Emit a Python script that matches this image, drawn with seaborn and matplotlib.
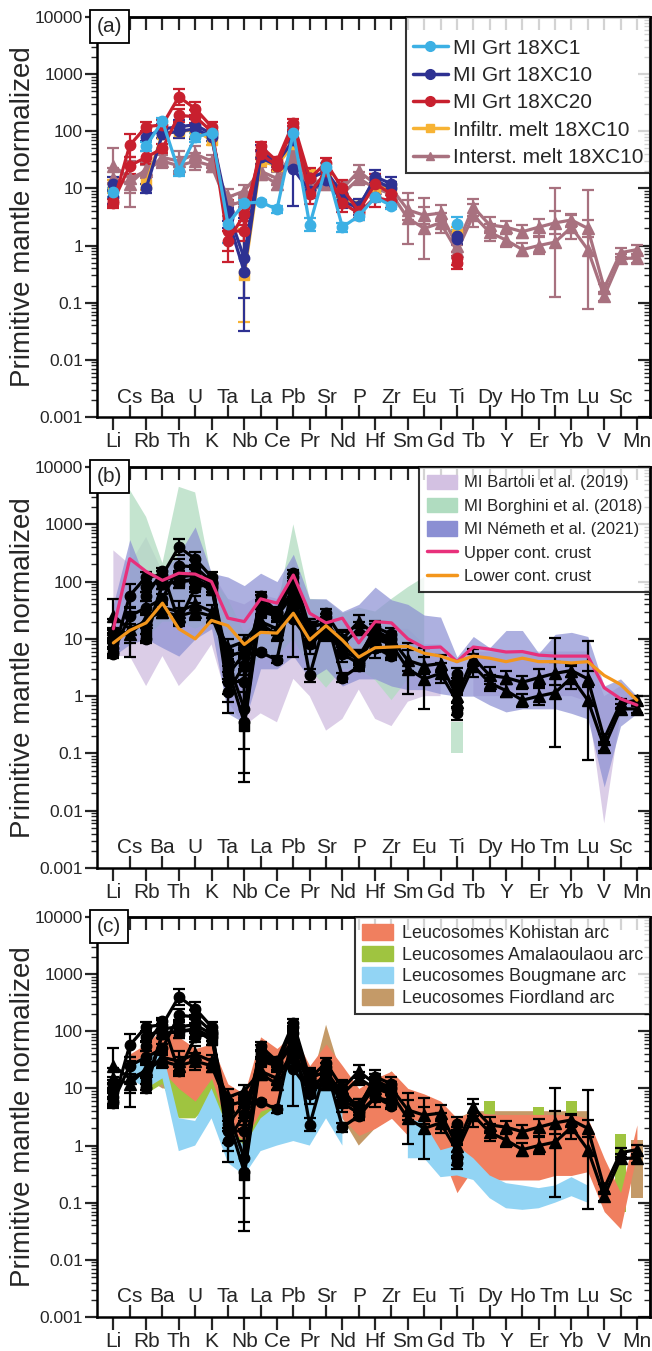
import numpy as np
import matplotlib
matplotlib.use("Agg")
import matplotlib.pyplot as plt
import seaborn as sns
import pandas as pd
from matplotlib.patches import Patch
from matplotlib.lines import Line2D
from matplotlib import ticker
import matplotlib.transforms as mtrans

sns.set_theme(style="ticks")
plt.rcParams['font.family'] = ['Liberation Sans', 'DejaVu Sans']

n = np.nan
elements = ["Li", "Cs", "Rb", "Ba", "Th", "U", "K", "Ta", "Nb", "La", "Ce", "Pb", "Pr", "Sr", "Nd",
            "P", "Hf", "Zr", "Sm", "Eu", "Gd", "Ti", "Tb", "Dy", "Y", "Ho", "Er", "Tm", "Yb", "Lu",
            "V", "Sc", "Mn"]

# ---- melt inclusion / melt data (primitive mantle normalized) ----
#        Li   Cs   Rb   Ba   Th   U    K    Ta   Nb   La   Ce   Pb   Pr   Sr   Nd   P    Hf   Zr   Sm   Eu   Gd   Ti   Tb   Dy   Y    Ho   Er   Tm   Yb   Lu   V    Sc   Mn
xc1 = [8.5, n, 55, 150, 20, 78, 95, 2.4, 5.5, 5.8, 4.3, 95, 2.3, 24, 2.1, 3.3, 7, 5, n, n, n, 2.4, n, n, n, n, n, n, n, n, n, n, n]
xc1_err = [1.2, n, 1.2, 1.15, 1.2, 1.2, 1.15, 2.2, 1.15, 1.1, 1.15, 1.2, 1.3, 1.15, 1.2, 1.2, 1.2, 1.15, n, n, n, 1.3, n, n, n, n, n, n, n, n, n, n, n]
xc10_1 = [7, n, 80, 110, 120, 130, 90, 4, 0.6, 45, 28, 70, 15, 20, 8, 5, 14, 10, n, n, n, 1.3, n, n, n, n, n, n, n, n, n, n, n]
xc10_1_err = [1.3, n, 1.2, 1.2, 1.3, 1.3, 1.2, 1.5, 5.0, 1.3, 1.2, 1.3, 1.3, 1.2, 1.3, 1.3, 1.3, 1.3, n, n, n, 1.2, n, n, n, n, n, n, n, n, n, n, n]
xc10_2 = [12, n, 10, 90, 100, 110, 80, 3, 0.35, 35, 25, 22, 9, 14, 6, 4.5, 16, 12, n, n, n, 1.5, n, n, n, n, n, n, n, n, n, n, n]
xc10_2_err = [1.3, n, 1.2, 1.2, 1.3, 1.5, 1.2, 1.5, 11.0, 1.3, 1.2, 4.5, 1.3, 1.2, 1.3, 1.3, 1.3, 1.3, n, n, n, 1.2, n, n, n, n, n, n, n, n, n, n, n]
xc20_1 = [5.5, 57, 120, 130, 400, 250, 120, 1.8, 1.8, 55, 30, 140, 15, 28, 10, 4, 12, 8, n, n, n, 0.6, n, n, n, n, n, n, n, n, n, n, n]
xc20_1_err = [1.2, 1.6, 1.2, 1.2, 1.4, 1.3, 1.2, 3.5, 1.5, 1.2, 1.2, 1.15, 1.5, 1.2, 1.4, 1.3, 1.5, 1.3, n, n, n, 1.3, n, n, n, n, n, n, n, n, n, n, n]
xc20_2 = [6, 25, 35, 50, 190, 180, 100, 1.2, 3.5, 40, 25, 120, 8, 20, 5.5, 3.7, 7, 6, n, n, n, 0.5, n, n, n, n, n, n, n, n, n, n, n]
xc20_2_err = [1.2, 1.4, 1.3, 1.2, 1.3, 1.3, 1.2, 1.5, 1.5, 1.2, 1.2, 1.15, 1.5, 1.2, 1.4, 1.3, 1.5, 1.3, n, n, n, 1.3, n, n, n, n, n, n, n, n, n, n, n]
infl = [11, n, 12, 90, 100, 105, 70, n, 0.3, 30, 25, 60, 17, 18, 7, 5, 10, 10, n, n, n, 1.6, n, n, n, n, n, n, n, n, n, n, n]
infl_err = [1.3, n, 1.3, 1.2, 1.3, 1.3, 1.2, n, 6.5, 1.2, 1.2, 1.3, 1.3, 1.2, 1.3, 1.3, 1.3, 1.3, n, n, n, 1.3, n, n, n, n, n, n, n, n, n, n, n]
inter_1 = [25, 15, 20, 35, 30, 40, 30, 7, 9, 20, 15, 45, 12, 15, 10, 20, 12, 10, 4.2, 3.4, 3.7, 1.0, 4.7, 2.3, 2.1, 1.75, 2.1, 2.5, 2.8, 2.0, 0.18, 0.75, 0.85]
inter_1_err = [2.0, 1.8, 1.3, 1.3, 1.5, 1.4, 1.3, 1.4, 1.3, 1.3, 1.3, 2.0, 1.3, 1.3, 1.3, 1.3, 1.3, 1.3, 1.5, 1.4, 1.4, 1.3, 1.4, 1.4, 1.3, 1.3, 1.4, 1.6, 1.3, 1.4, 1.2, 1.2, 1.2]
inter_2 = [15, 12, 22, 30, 25, 30, 25, 5, 6, 18, 12, 35, 9, 12, 8, 15, 10, 8, 3.0, 2.0, 2.5, 0.8, 3.4, 1.7, 1.25, 0.85, 1.0, 1.15, 2.1, 0.85, 0.13, 0.6, 0.6]
inter_2_err = [1.5, 2.5, 1.3, 1.3, 1.4, 1.4, 1.3, 1.5, 1.3, 1.3, 1.3, 1.4, 1.3, 1.3, 1.3, 1.3, 1.3, 1.3, 2.8, 3.4, 1.5, 1.3, 1.6, 1.4, 1.3, 1.3, 1.4, 9.0, 1.6, 11.0, 1.2, 1.2, 1.2]

# ---- continental crust ----
ucc = [15, 250, 150, 105, 140, 135, 100, 23, 20, 50, 42, 130, 28, 19, 23, 8.5, 20, 19, 10, 7, 7.2, 4, 7.2, 6.6, 5.9, 6, 5.2, 5, 5, 5, 1.4, 0.9, 0.7]
lcc = [8.5, 14, 19, 42, 15, 10, 21, 17, 8, 13, 12.6, 28, 9.6, 17, 9.5, 4.8, 7, 7.2, 7.4, 5.6, 5, 4, 5, 4.6, 4, 4.6, 4, 4, 3.8, 4, 2.3, 1.6, 0.85]

# ---- literature melt inclusion ranges (lower / upper) ----
bartoli_lo = [5, 5, 1.5, 5, 1.5, 3, 8, 0.8, 0.3, 0.5, 0.35, 2, 1, 0.25, 0.4, 1.3, 0.4, 0.3, 0.8, 1, 1, n, 1, 1, 1, 1, 1, 1, 1, 0.8, 0.006, 0.5, 0.6]
bartoli_hi = [350, 200, 600, 150, 100, 200, 150, 50, 40, 60, 50, 250, 30, 30, 20, 20, 20, 15, 15, 8, 8, n, 6, 6, 6, 6, 6, 6, 6, 6, 1, 1.5, 1]
borghini_lo = [n, 14, 10, 20, 20, 15, 20, 2, 2, 5, 5, 10, 3, 1.4, 3, 3, 1.9, 0.85, 2, 3, n, 0.1, n, n, n, n, n, n, n, n, n, n, n]
borghini_hi = [n, 4000, 1350, 210, 4500, 3600, 120, 50, 13, 22, 32, 1000, 50, 48, 28, 35, 30, 50, 80, 120, n, 0.35, n, n, n, n, n, n, n, n, n, n, n]
nemeth_lo = [5, 8, 10, 7, 5, 10, 15, 0.5, 0.34, 3, 3, 5, 2, 3, 1.5, 2, 2, 1.5, 1.3, 1.3, 1.1, 1, 1, 0.7, 0.53, 0.6, 0.6, 0.6, 0.5, 0.4, 0.026, 0.3, 0.5]
nemeth_hi = [40, 540, 100, 150, 300, 900, 140, 120, 85, 140, 100, 300, 50, 50, 30, 40, 80, 48, 40, 26, 24, 4.8, 11, 7, 14, 14, 5.6, 12, 13, 11, 1.5, 2, 1]

# ---- arc leucosome ranges (lower / upper) ----
kohistan_lo = [n, 15, 20, 20, 10, 6, 15, 2, 1.2, 4, 5, 10, 3, 8, 3, 1.5, 2, 3, 1.5, 1, 0.8, 0.15, 0.4, 0.25, 0.25, 0.25, 0.25, 0.3, 0.3, 0.35, 0.07, 0.035, 0.74]
kohistan_hi = [n, 40, 60, 110, 80, 50, 60, 12, 8, 80, 50, 90, 25, 60, 25, 10, 15, 20, 10, 8, 6, 3, 4, 3.5, 3.5, 3.5, 3.5, 3.5, 3.5, 3, 0.6, 0.15, 2.3]
amala_lo = [n, n, 8, 12, 3, 3, 6, 1.2, 1, 1.5, 2, n, n, n, n, n, n, n, n, 3, 2.5, n, n, 3.5, n, n, 1.7, n, 3.5, n, n, 0.07, n]
amala_hi = [n, n, 20, 35, 12, 10, 20, 4, 4, 10, 10, n, n, n, n, n, n, n, n, 6, 5, n, n, 6, n, n, 4.7, n, 6, n, n, 1.6, n]
boug_lo = [n, 15, 10, 15, 0.8, 1, 3, 0.5, 0.3, 0.8, 1, 1.2, 1, 3, 1, n, n, n, 0.6, 0.6, 0.28, 0.3, 0.25, 0.12, 0.08, 0.075, 0.08, 0.1, 0.13, 0.1, n, n, n]
boug_hi = [n, 25, 40, 45, 3, 2.7, 10, 2, 1, 3, 5, 60, 8, 15, 8, n, n, n, 3, 2.5, 0.83, 1, 0.6, 0.3, 0.22, 0.2, 0.18, 0.2, 0.28, 0.2, n, n, n]
fiord_lo = [n, n, 15, 10, 10, 5, 4, 2, 1.5, 2, 2.5, 5, 2, 10, 3, 1, 2, 3, 2, 1.5, 1.5, 0.5, 1, 1, 1.5, 1.5, 1.5, 1.5, 1.5, 1.5, n, n, 0.12]
fiord_hi = [n, n, 40, 25, 15, 15, 10, 5, 5, 10, 15, 30, 10, 130, 15, 5, 10, 20, 8, 6, 5, 3, 4, 4, 4, 4, 4, 4, 4, 4, n, n, 1.26]

x = np.arange(len(elements))

C_XC1 = "#3cb0e4"
C_XC10 = "#2e3192"
C_XC20 = "#c8202e"
C_INF = "#f7b334"
C_INT = "#a8717f"

series = [
    (xc1, xc1_err, C_XC1, "o"),
    (xc10_1, xc10_1_err, C_XC10, "o"),
    (xc10_2, xc10_2_err, C_XC10, "o"),
    (xc20_1, xc20_1_err, C_XC20, "o"),
    (xc20_2, xc20_2_err, C_XC20, "o"),
    (infl, infl_err, C_INF, "s"),
    (inter_1, inter_1_err, C_INT, "^"),
    (inter_2, inter_2_err, C_INT, "^"),
]
draw_order = [6, 7, 5, 1, 2, 4, 3, 0]

W, H = 652, 1351
fig = plt.figure(figsize=(W / 100, H / 100), dpi=100)
left, right = 97, 650
panels = [(17, 417), (467, 868), (917, 1317)]
axes = []
for top, bot in panels:
    ax = fig.add_axes([left / W, 1 - bot / H, (right - left) / W, (bot - top) / H])
    axes.append(ax)


def style_axis(ax, label):
    ax.set_yscale("log")
    ax.set_ylim(1e-3, 1e4)
    ax.set_xlim(-1, 32.8)
    for sp in ax.spines.values():
        sp.set_linewidth(1.8)
        sp.set_color("black")
    ax.set_yticks([1e-3, 1e-2, 1e-1, 1, 10, 100, 1000, 1e4])
    ax.set_yticklabels(["0.001", "0.01", "0.1", "1", "10", "100", "1000", "10000"], fontsize=12.5)
    ax.yaxis.set_minor_locator(ticker.LogLocator(base=10, subs=np.arange(2, 10), numticks=20))
    ax.yaxis.set_minor_formatter(ticker.NullFormatter())
    ax.tick_params(axis="y", which="major", direction="out", length=9, width=1.6, left=True, right=False, pad=1)
    ax.tick_params(axis="y", which="minor", direction="out", length=4.5, width=1.0, left=True, right=False)
    sec = ax.secondary_yaxis("right")
    sec.set_yticks([1e-3, 1e-2, 1e-1, 1, 10, 100, 1000, 1e4])
    sec.yaxis.set_minor_locator(ticker.LogLocator(base=10, subs=np.arange(2, 10), numticks=20))
    sec.yaxis.set_major_formatter(ticker.NullFormatter())
    sec.yaxis.set_minor_formatter(ticker.NullFormatter())
    sec.tick_params(axis="y", which="major", direction="in", length=9, width=1.6)
    sec.tick_params(axis="y", which="minor", direction="in", length=4.5, width=1.0)
    sec.spines["right"].set_linewidth(1.8)
    ax.set_xticks(x[::2])
    ax.set_xticklabels(elements[::2], fontsize=15)
    ax.set_xticks(x[1::2], minor=True)
    ax.tick_params(axis="x", which="major", direction="out", length=9, width=1.6, pad=1.5, bottom=True, top=False)
    ax.tick_params(axis="x", which="minor", direction="in", length=9, width=1.6, bottom=True, top=False)
    trans = mtrans.blended_transform_factory(ax.transData, ax.transAxes)
    for i in x[1::2]:
        ax.text(i, 0.05, elements[i], transform=trans, ha="center", va="center", fontsize=15)
    topax = ax.secondary_xaxis("top")
    topax.set_xticks(x)
    topax.xaxis.set_major_formatter(ticker.NullFormatter())
    topax.tick_params(axis="x", direction="in", length=9, width=1.6)
    topax.spines["top"].set_linewidth(1.8)
    ax.set_xlabel("")
    ax.set_ylabel("Primitive mantle normalized", fontsize=20)
    ax.yaxis.set_label_coords(-0.11, 0.5)
    ax.text(0.0, 1.0, label, transform=ax.transAxes, ha="left", va="top", fontsize=15, zorder=10,
            bbox=dict(boxstyle="square,pad=0.33", fc="white", ec="black", lw=1.3))


def band(ax, lo, hi, color, alpha=1.0):
    lo = np.array(lo, dtype=float)
    hi = np.array(hi, dtype=float)
    ok = ~np.isnan(lo)
    ax.fill_between(x, lo, hi, color=color, alpha=alpha, lw=0, zorder=1)
    # isolated values (no neighbour on either side) are drawn as short bars
    for i in x[ok]:
        prev_ok = i > 0 and ok[i - 1]
        next_ok = i < len(x) - 1 and ok[i + 1]
        if not prev_ok and not next_ok:
            ax.bar(i, hi[i] - lo[i], bottom=lo[i], width=0.7, color=color, alpha=alpha, lw=0, zorder=1)


def draw_series(ax, black=False):
    for k in draw_order:
        vals, err, col, mk = series[k]
        v = np.array(vals, dtype=float)
        f = np.array(err, dtype=float)
        lo = v - v / f
        hi = v * f - v
        c = "black" if black else col
        ms = 7.5 if mk != "^" else 8.5
        if mk == "s":
            ms = 6.5
        ax.errorbar(x, v, yerr=[lo, hi], color=c, marker=mk, markersize=ms, lw=2.3,
                    elinewidth=1.6, capsize=4.5, capthick=1.6, zorder=3)


# ---------------- panel a ----------------
ax = axes[0]
style_axis(ax, "(a)")
draw_series(ax)
handles = [
    Line2D([], [], color=C_XC1, marker="o", lw=2.5, ms=7, label="MI Grt 18XC1"),
    Line2D([], [], color=C_XC10, marker="o", lw=2.5, ms=7, label="MI Grt 18XC10"),
    Line2D([], [], color=C_XC20, marker="o", lw=2.5, ms=7, label="MI Grt 18XC20"),
    Line2D([], [], color=C_INF, marker="s", lw=2.5, ms=6, label="Infiltr. melt 18XC10"),
    Line2D([], [], color=C_INT, marker="^", lw=2.5, ms=6, label="Interst. melt 18XC10"),
]
leg = ax.legend(handles=handles, loc="upper right", fontsize=15, frameon=True, fancybox=False,
                edgecolor="black", borderaxespad=0, handlelength=1.7, handletextpad=0.25,
                labelspacing=0.4, borderpad=0.3, title=" ", title_fontsize=5)
leg.get_frame().set_linewidth(1.5)
leg.set_zorder(20)

# ---------------- panel b ----------------
ax = axes[1]
style_axis(ax, "(b)")
C_BAR = "#d3c1e2"
C_BOR = "#b0dcc0"
C_NEM = "#8b8fd3"
band(ax, bartoli_lo, bartoli_hi, C_BAR, 0.8)
band(ax, borghini_lo, borghini_hi, C_BOR, 0.75)
band(ax, nemeth_lo, nemeth_hi, C_NEM, 0.7)
draw_series(ax, black=True)
crust = pd.DataFrame({"x": np.concatenate([x, x]),
                      "v": np.concatenate([ucc, lcc]),
                      "crust": ["Upper cont. crust"] * len(x) + ["Lower cont. crust"] * len(x)})
sns.lineplot(data=crust, x="x", y="v", hue="crust", palette={"Upper cont. crust": "#e8307b",
             "Lower cont. crust": "#f3961c"}, lw=2.3, ax=ax, legend=False, zorder=4)
ax.set_xlabel("")
ax.set_ylabel("Primitive mantle normalized", fontsize=20)
handles = [
    Patch(color=C_BAR, label="MI Bartoli et al. (2019)"),
    Patch(color=C_BOR, label="MI Borghini et al. (2018)"),
    Patch(color=C_NEM, label="MI Németh et al. (2021)"),
    Line2D([], [], color="#e8307b", lw=2.5, label="Upper cont. crust"),
    Line2D([], [], color="#f3961c", lw=2.5, label="Lower cont. crust"),
]
leg = ax.legend(handles=handles, loc="upper right", fontsize=12, frameon=True, fancybox=False,
                edgecolor="black", borderaxespad=0, handlelength=1.8, handleheight=0.95,
                handletextpad=0.45, labelspacing=0.45, borderpad=0.45)
leg.get_frame().set_linewidth(1.5)
leg.set_zorder(20)

# ---------------- panel c ----------------
ax = axes[2]
style_axis(ax, "(c)")
C_KOH = "#f07f5f"
C_AMA = "#9fc440"
C_BOU = "#92d4f4"
C_FIO = "#c49a68"
band(ax, fiord_lo, fiord_hi, C_FIO)
band(ax, amala_lo, amala_hi, C_AMA)
band(ax, kohistan_lo, kohistan_hi, C_KOH)
band(ax, boug_lo, boug_hi, C_BOU)
draw_series(ax, black=True)
handles = [
    Patch(color=C_KOH, label="Leucosomes Kohistan arc"),
    Patch(color=C_AMA, label="Leucosomes Amalaoulaou arc"),
    Patch(color=C_BOU, label="Leucosomes Bougmane arc"),
    Patch(color=C_FIO, label="Leucosomes Fiordland arc"),
]
leg = ax.legend(handles=handles, loc="upper right", fontsize=13, frameon=True, fancybox=False,
                edgecolor="black", borderaxespad=0, handlelength=1.75, handleheight=0.95,
                handletextpad=0.45, labelspacing=0.2, borderpad=0.4)
leg.get_frame().set_linewidth(1.5)
leg.set_zorder(20)

fig.savefig("out.png", dpi=100)
